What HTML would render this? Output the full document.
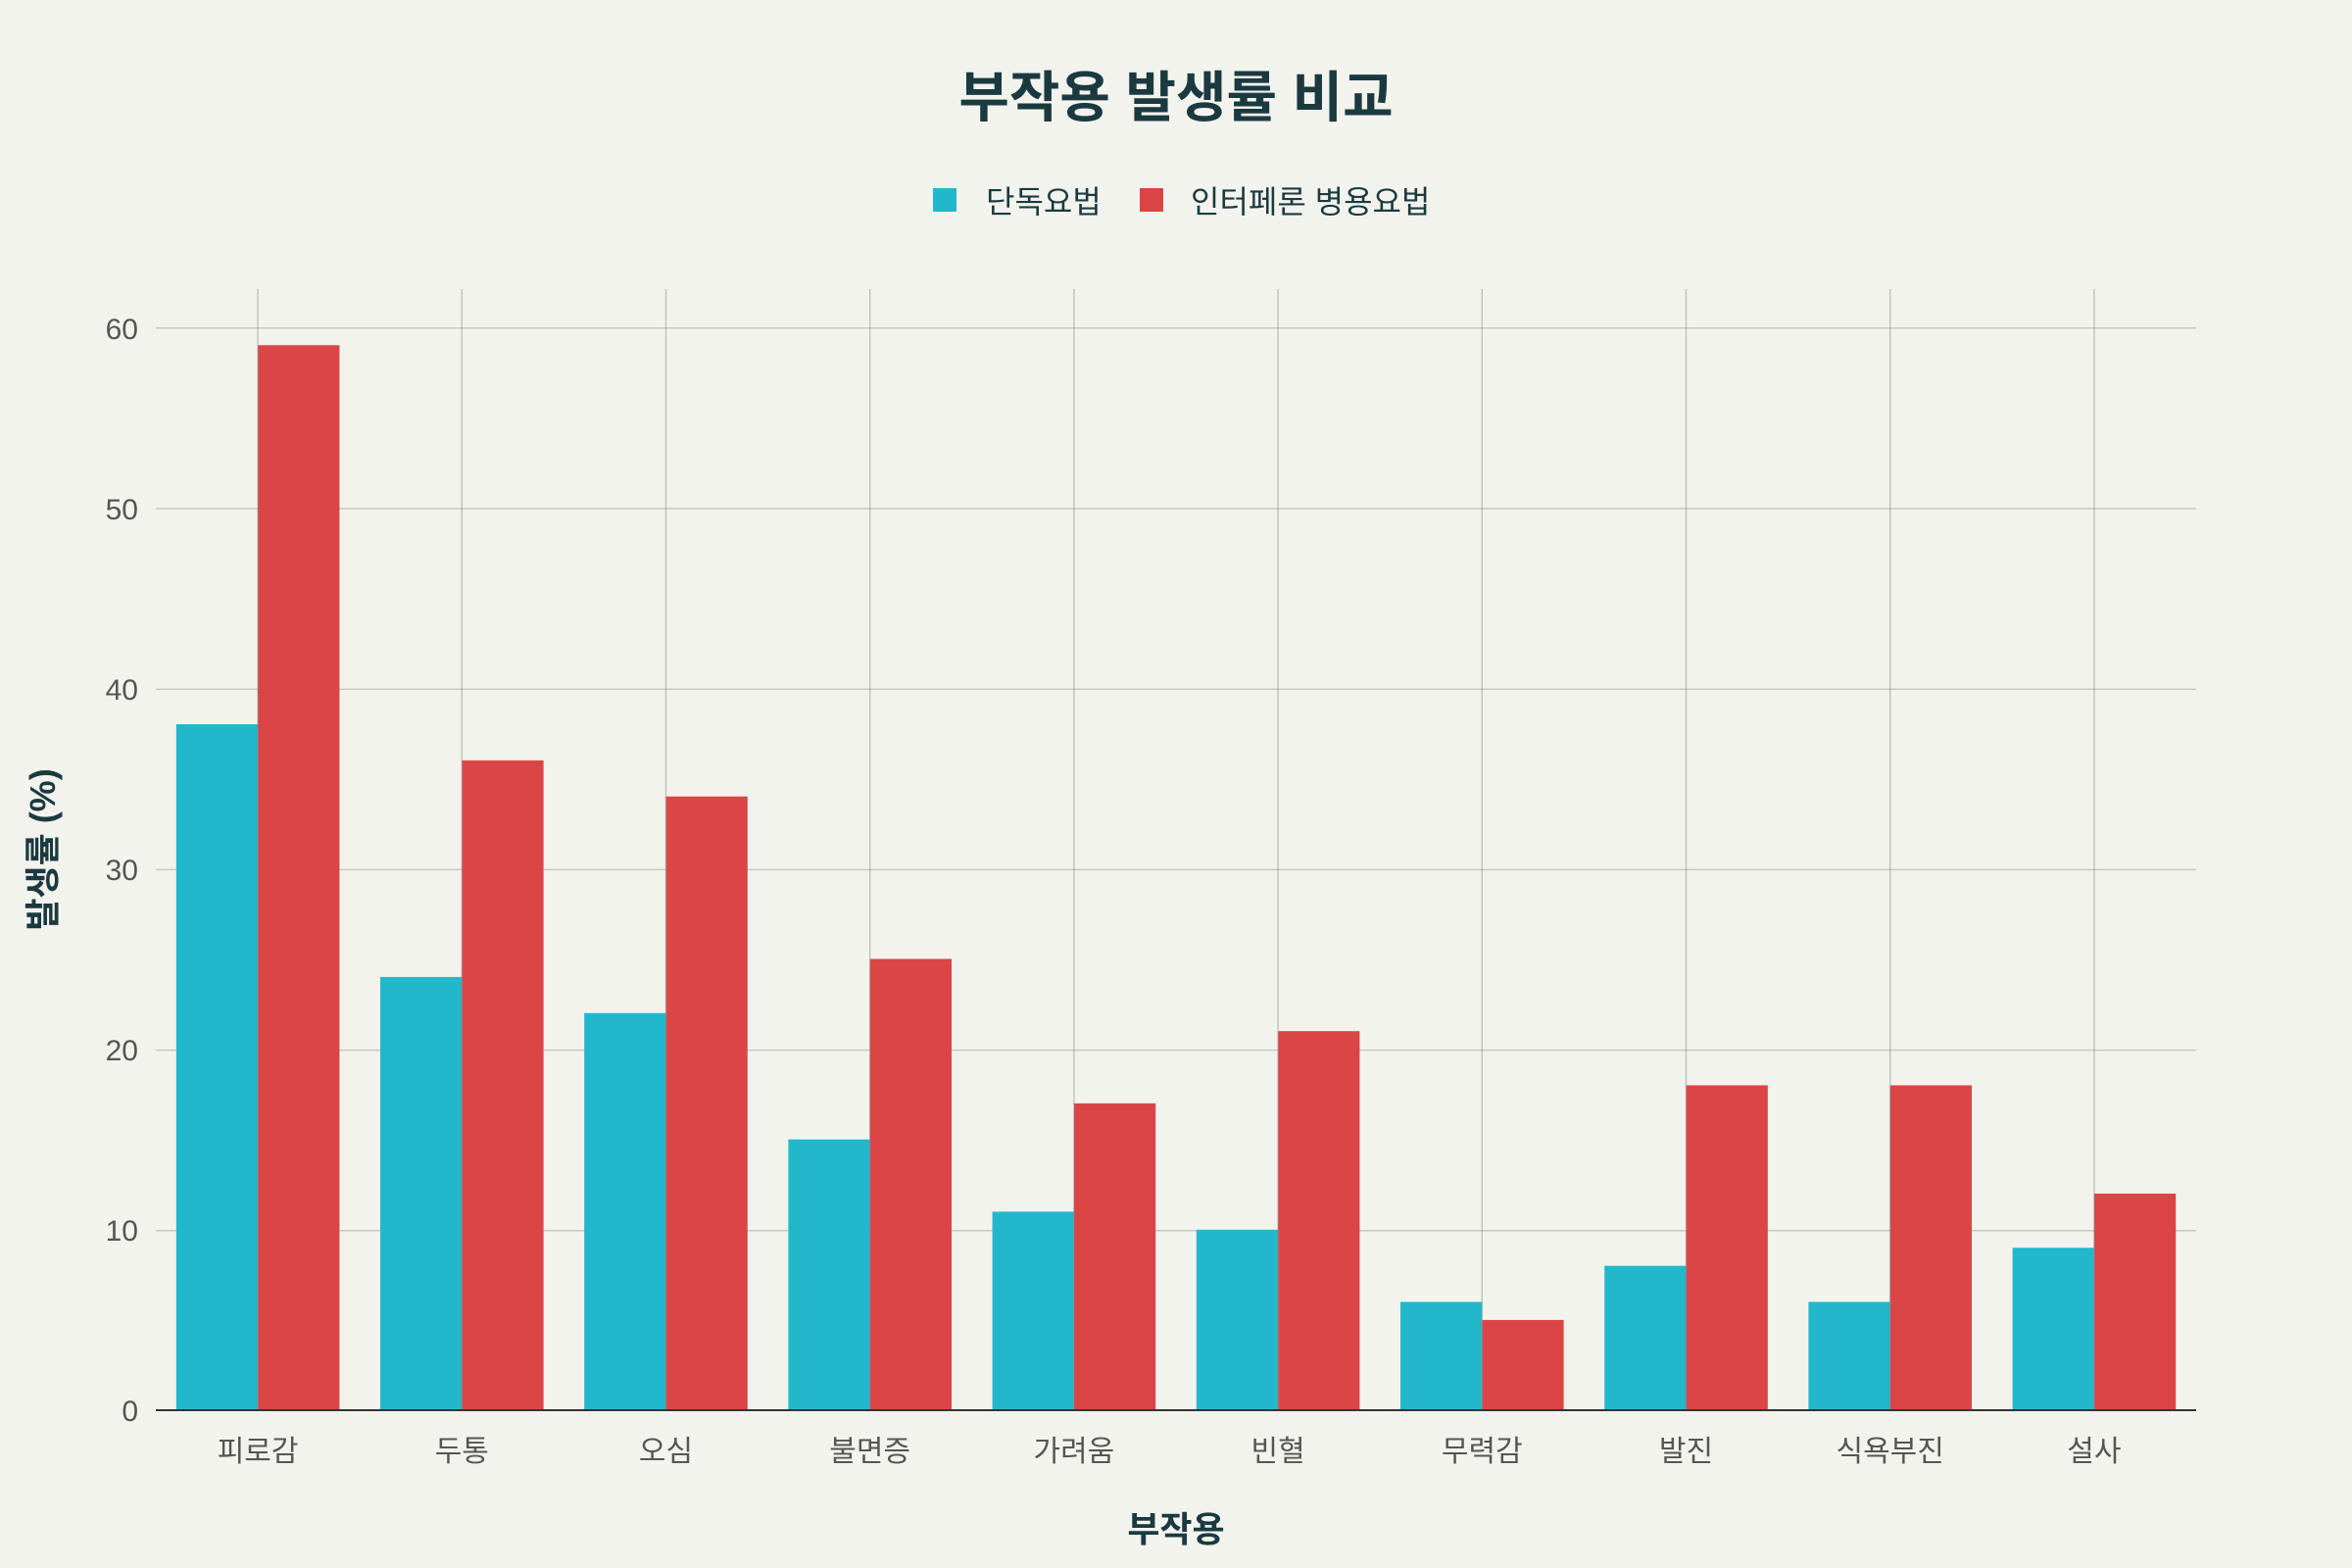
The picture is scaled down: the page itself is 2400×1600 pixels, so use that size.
<!DOCTYPE html>
<html><head><meta charset="utf-8"><style>
html,body{margin:0;padding:0;background:#f3f3ee;}
svg{display:block;}
text{font-family:"Liberation Sans","Noto Sans CJK KR",sans-serif;}
</style></head><body>
<svg width="2400" height="1600" viewBox="0 0 2400 1600" xmlns="http://www.w3.org/2000/svg">
<rect width="2400" height="1600" fill="#f3f3ee"/>
<text x="1200" y="119" text-anchor="middle" font-size="56" font-weight="bold" fill="#1b3a40">부작용 발생률 비교</text>
<rect x="952" y="192" width="24" height="24" fill="#21b8cc"/>
<text x="1006" y="217" font-size="32" fill="#1b3a40">단독요법</text>
<rect x="1163" y="192" width="24" height="24" fill="#db4545"/>
<text x="1215" y="217" font-size="32" fill="#1b3a40">인터페론 병용요법</text>
<g stroke="#c9c9c3" stroke-width="1.5">
<line x1="159" x2="2241" y1="1255.8" y2="1255.8"/>
<line x1="159" x2="2241" y1="1071.6" y2="1071.6"/>
<line x1="159" x2="2241" y1="887.4" y2="887.4"/>
<line x1="159" x2="2241" y1="703.2" y2="703.2"/>
<line x1="159" x2="2241" y1="519" y2="519"/>
<line x1="159" x2="2241" y1="334.8" y2="334.8"/>
</g>
<g id="bars"></g>
<g stroke="#8a8a85" stroke-opacity="0.45" stroke-width="1.5" id="vg"></g>
<line x1="159" x2="2241" y1="1439" y2="1439" stroke="#333" stroke-width="2"/>
<g font-size="30" fill="#555" text-anchor="end">
<text x="141" y="1450">0</text>
<text x="141" y="1266">10</text>
<text x="141" y="1082">20</text>
<text x="141" y="898">30</text>
<text x="141" y="714">40</text>
<text x="141" y="530">50</text>
<text x="141" y="346">60</text>
</g>
<g font-size="30" fill="#555" text-anchor="middle" id="xl"></g>
<text x="1200" y="1573" text-anchor="middle" font-size="36" font-weight="bold" fill="#1b3a40">부작용</text>
<text transform="translate(56,867) rotate(-90)" text-anchor="middle" font-size="36" font-weight="bold" fill="#1b3a40">발생률 (%)</text>
<script>
var cats=["피로감","두통","오심","불면증","가려움","빈혈","무력감","발진","식욕부진","설사"];
var a=[38,24,22,15,11,10,6,8,6,9],b=[59,36,34,25,17,21,5,18,18,12];
var ns="http://www.w3.org/2000/svg",g=document.getElementById("bars"),vg=document.getElementById("vg"),xl=document.getElementById("xl");
function el(p,t,at,txt){var e=document.createElementNS(ns,t);for(var k in at)e.setAttribute(k,at[k]);if(txt)e.textContent=txt;p.appendChild(e);}
for(var i=0;i<10;i++){var c=159+208.2*(i+0.5),s=18.42;
el(g,"rect",{x:c-83.3,y:1439-a[i]*s,width:83.3,height:a[i]*s,fill:"#21b8cc"});
el(g,"rect",{x:c,y:1439-b[i]*s,width:83.3,height:b[i]*s,fill:"#db4545"});
el(vg,"line",{x1:c,x2:c,y1:295,y2:1439});
el(xl,"text",{x:c,y:1491},cats[i]);}
</script>
</svg>
</body></html>
